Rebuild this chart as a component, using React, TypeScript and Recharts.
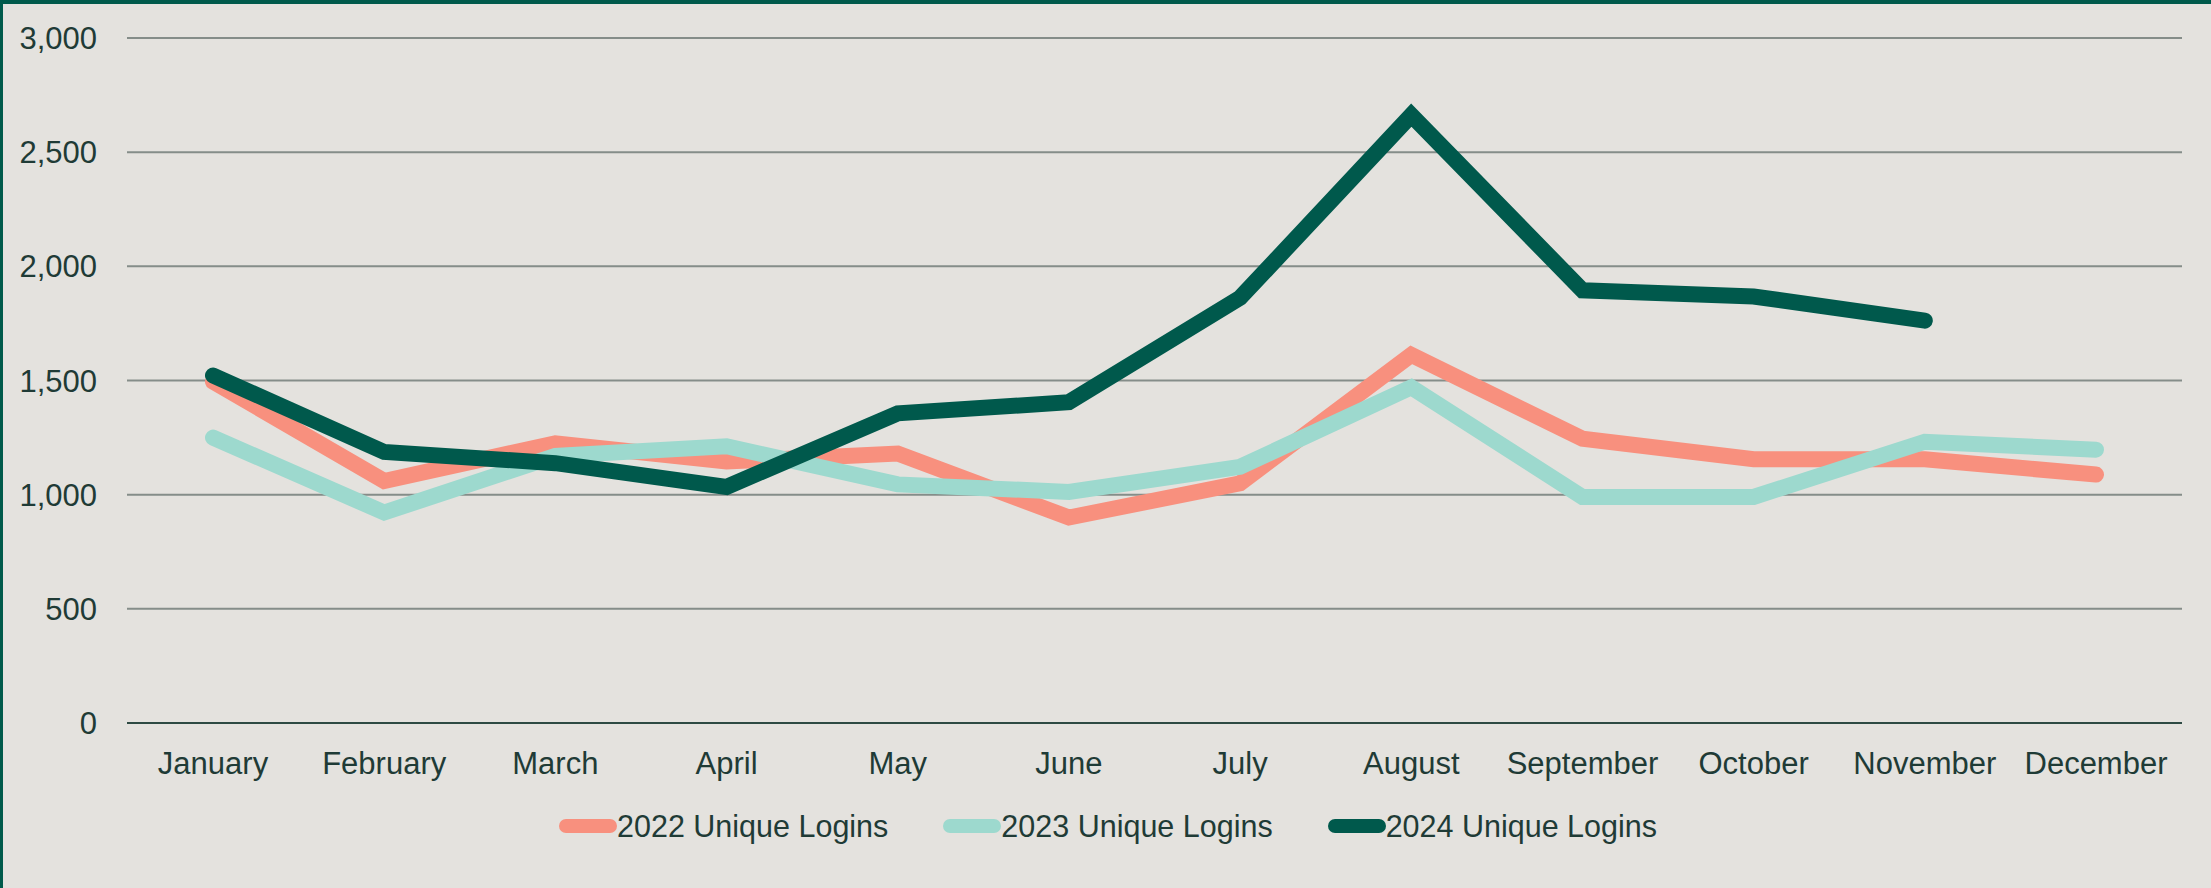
import { LineChart, Line, XAxis, YAxis, CartesianGrid, Legend } from 'recharts';

const months = ['January', 'February', 'March', 'April', 'May', 'June', 'July', 'August', 'September', 'October', 'November', 'December'];
const logins2022 = [1495, 1060, 1225, 1145, 1180, 900, 1050, 1612, 1245, 1155, 1155, 1088];
const logins2023 = [1250, 922, 1170, 1212, 1045, 1012, 1122, 1470, 990, 990, 1232, 1197];
const logins2024: (number | null)[] = [1522, 1187, 1138, 1034, 1356, 1405, 1862, 2662, 1895, 1868, 1762, null];
const yTicks = [0, 500, 1000, 1500, 2000, 2500, 3000];

const series = [
    { key: 'y2022', name: '2022 Unique Logins', color: '#F8907E' },
    { key: 'y2023', name: '2023 Unique Logins', color: '#9DD9CE' },
    { key: 'y2024', name: '2024 Unique Logins', color: '#00594C' },
];

const data = months.map((month, i) => ({
    month,
    y2022: logins2022[i],
    y2023: logins2023[i],
    y2024: logins2024[i],
}));

const textColor = '#1F3B36';
const font = '"Liberation Sans", Arial, sans-serif';

function LegendBox() {
    return (
        <div style={{ height: 86, paddingLeft: 34, display: 'flex', alignItems: 'center', justifyContent: 'center', gap: 55, fontFamily: font, fontSize: 30.5, color: textColor }}>
            {series.map(s => (
                <div key={s.key} style={{ display: 'flex', alignItems: 'center' }}>
                    <span style={{ display: 'inline-block', width: 58, height: 14, borderRadius: 7, background: s.color }} />
                    <span>{s.name}</span>
                </div>
            ))}
        </div>
    );
}

export default function App() {
    return (
        <div style={{ position: 'absolute', left: 0, top: 0, width: 2211, height: 888, background: '#E4E2DE', overflow: 'hidden' }}>
            <LineChart width={2211} height={888} data={data} margin={{ top: 38, right: 29, left: 0, bottom: 19 }}>
                <CartesianGrid vertical={false} stroke="#858D89" strokeWidth={2} />
                <XAxis
                    dataKey="month"
                    height={60}
                    padding={{ left: 86, right: 86 }}
                    tickLine={false}
                    tickSize={0}
                    tickMargin={29}
                    axisLine={{ stroke: '#2E4A43', strokeWidth: 2 }}
                    tick={{ fill: textColor, fontSize: 31, fontFamily: font }}
                    interval={0}
                />
                <YAxis
                    width={127}
                    domain={[0, 3000]}
                    ticks={yTicks}
                    tickLine={false}
                    axisLine={false}
                    tickSize={0}
                    tickMargin={30}
                    tickFormatter={(v: number) => v.toLocaleString('en-US')}
                    tick={{ fill: textColor, fontSize: 31, fontFamily: font }}
                />
                <Legend verticalAlign="bottom" content={() => <LegendBox />} />
                {series.map(s => (
                    <Line
                        key={s.key}
                        type="linear"
                        dataKey={s.key}
                        name={s.name}
                        stroke={s.color}
                        strokeWidth={16}
                        strokeLinecap="round"
                        dot={false}
                        activeDot={false}
                        isAnimationActive={false}
                    />
                ))}
            </LineChart>
            <div style={{ position: 'absolute', left: 0, top: 0, width: 2211, height: 4, background: '#005A4B' }} />
            <div style={{ position: 'absolute', left: 0, top: 0, width: 3, height: 888, background: '#005A4B' }} />
        </div>
    );
}
